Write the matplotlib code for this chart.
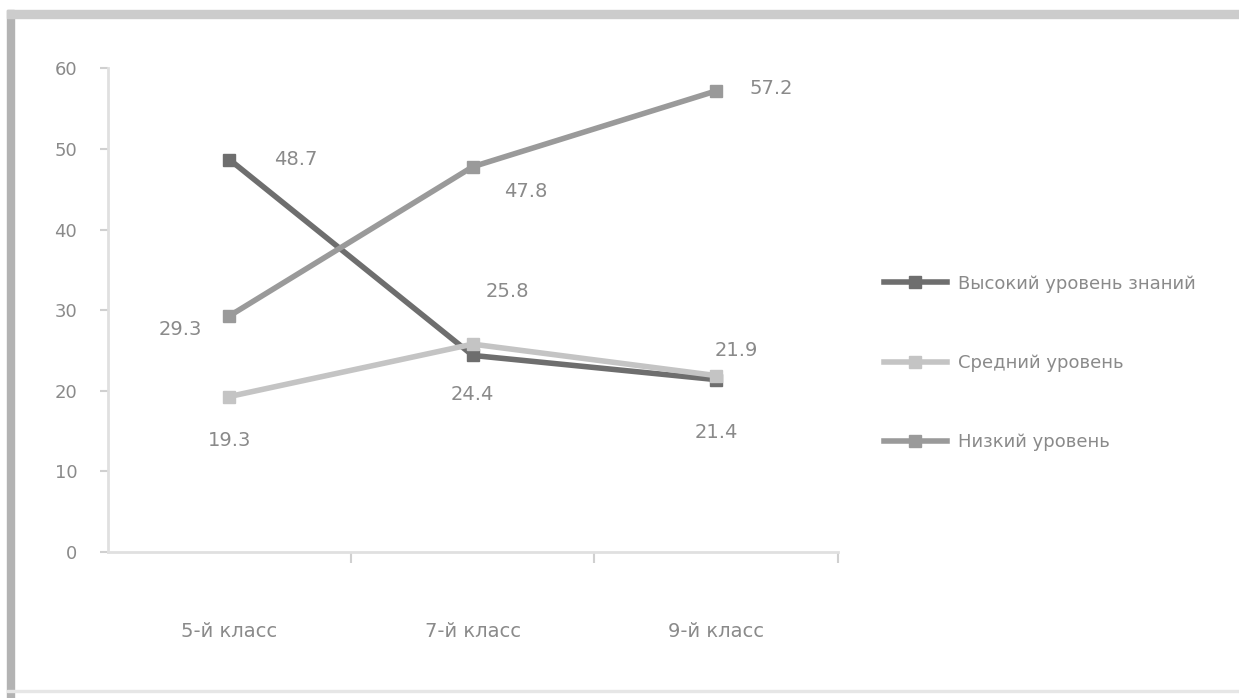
import matplotlib
matplotlib.use("Agg")
import matplotlib.pyplot as plt
from matplotlib.lines import Line2D
from matplotlib.patches import Rectangle

categories = ["5-й класс", "7-й класс", "9-й класс"]
series_names = ["Высокий уровень знаний", "Средний уровень", "Низкий уровень"]
high_vals = [48.7, 24.4, 21.4]
mid_vals = [19.3, 25.8, 21.9]
low_vals = [29.3, 47.8, 57.2]
y_ticks = [0, 10, 20, 30, 40, 50, 60]

colors = ["#6e6e6e", "#c4c4c4", "#9a9a9a"]
text_color = "#8a8a8a"

plt.rcParams['font.family'] = ['DejaVu Sans']

fig = plt.figure(figsize=(12.39, 6.98), dpi=100)
ax = fig.add_axes([0.087, 0.209, 0.589, 0.693])

x = list(range(len(categories)))
all_series = [high_vals, mid_vals, low_vals]
for vals, c, name in zip(all_series, colors, series_names):
    ax.plot(x, vals, color=c, lw=4, marker='s', ms=8, mfc=c, mec=c, label=name)

# data labels
offsets = [
    [(32, 0, 'left', 'center'), (0, -28, 'center', 'center'), (0, -38, 'center', 'center')],
    [(0, -32, 'center', 'center'), (25, 38, 'center', 'center'), (15, 18, 'center', 'center')],
    [(-35, -10, 'center', 'center'), (38, -18, 'center', 'center'), (40, 2, 'center', 'center')],
]
for vals, offs in zip(all_series, offsets):
    for xi, v, (dx, dy, ha, va) in zip(x, vals, offs):
        ax.annotate(f"{v:.1f}", (xi, v), xytext=(dx, dy), textcoords='offset points',
                    ha=ha, va=va, fontsize=14, color=text_color)

ax.set_xlim(-0.5, 2.5)
ax.set_ylim(0, 60)
ax.set_yticks(y_ticks)
ax.set_yticklabels([str(t) for t in y_ticks], fontsize=13, color=text_color)
ax.set_xticks(x)
ax.set_xticklabels(categories, fontsize=14, color=text_color)
ax.tick_params(axis='x', which='major', length=0, pad=50)
ax.set_xticks([0.5, 1.5, 2.5], minor=True)
ax.tick_params(axis='x', which='minor', length=8, color="#d0d0d0", width=1.5, direction='out')
ax.tick_params(axis='y', length=6, color="#d0d0d0", width=1.5, pad=16)

for s in ['top', 'right']:
    ax.spines[s].set_visible(False)
for s in ['left', 'bottom']:
    ax.spines[s].set_color("#e0e0e0")
    ax.spines[s].set_linewidth(2)

handles = [Line2D([0], [0], color=c, lw=4, marker='s', ms=8) for c in colors]
fig.legend(handles, series_names, loc='center left', bbox_to_anchor=(0.70, 0.48),
           frameon=False, fontsize=13, labelcolor=text_color, handlelength=3.5,
           handletextpad=0.6, labelspacing=3.4)

# frame
fig.patches.append(Rectangle((0.006, 0.0), 0.005, 0.985, transform=fig.transFigure,
                             color="#b3b3b3", zorder=0))
fig.patches.append(Rectangle((0.006, 0.974), 0.994, 0.012, transform=fig.transFigure,
                             color="#cccccc", zorder=0))
fig.patches.append(Rectangle((0.006, 0.008), 0.994, 0.004, transform=fig.transFigure,
                             color="#e6e6e6", zorder=0))

fig.savefig("out.png", dpi=100)
